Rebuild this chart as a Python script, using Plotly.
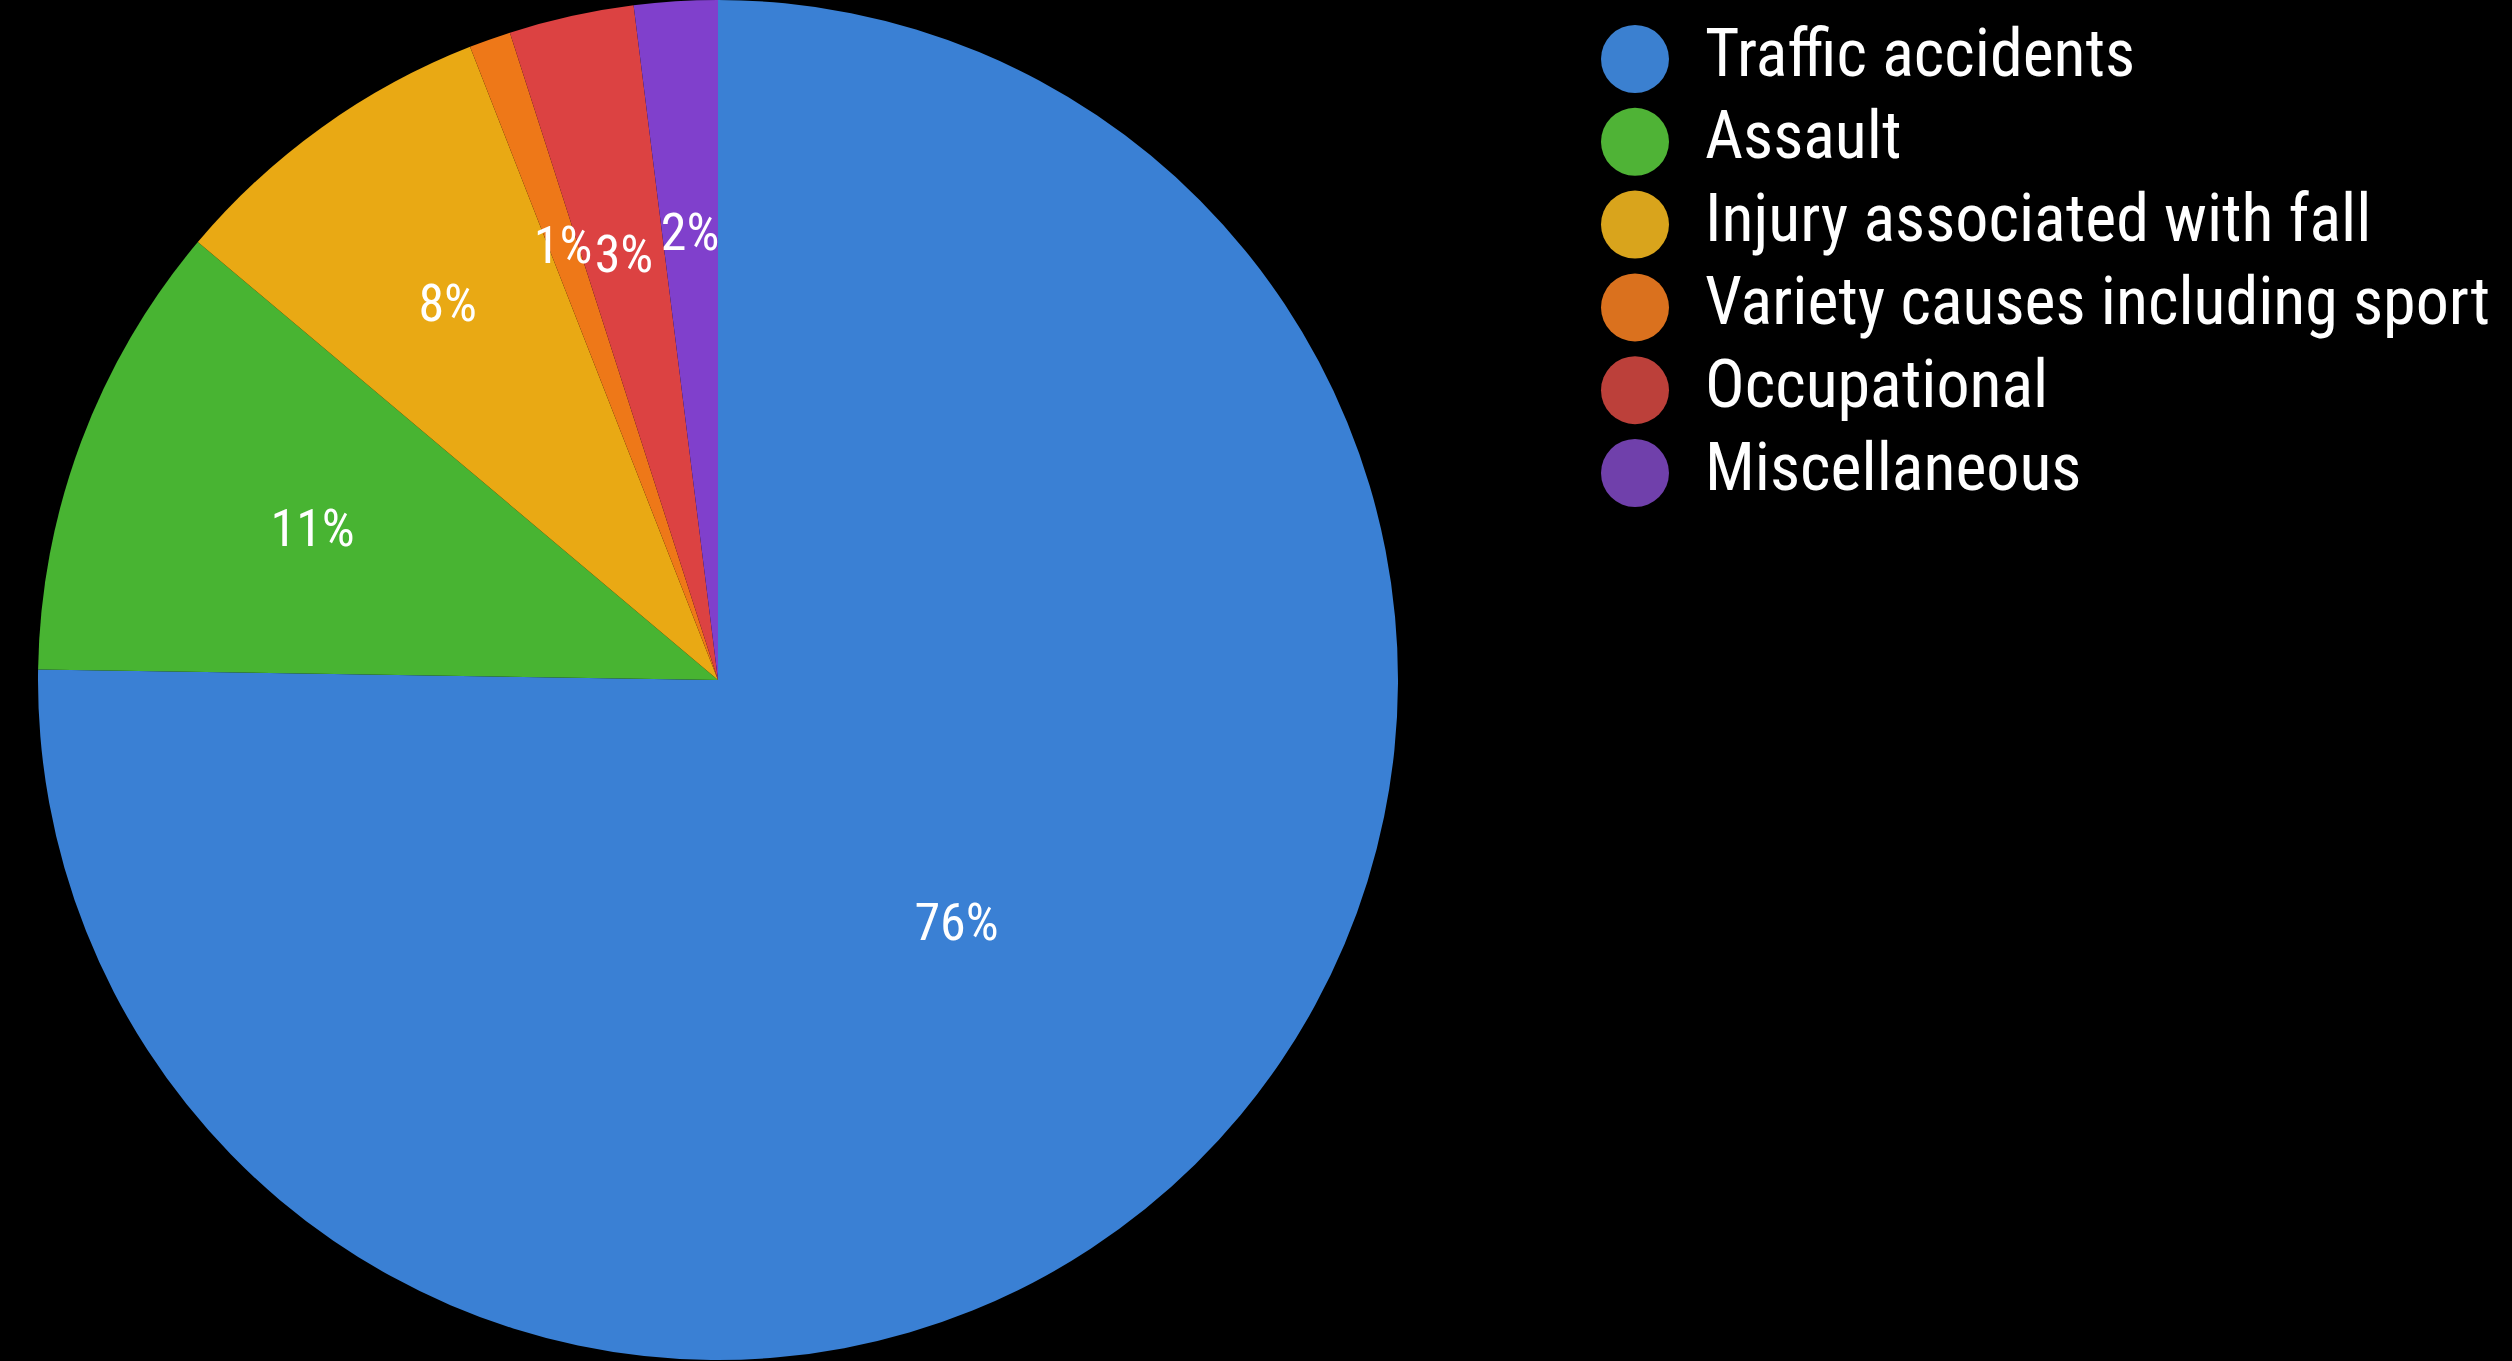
import plotly.graph_objects as go

categories = ["Traffic accidents", "Assault", "Injury associated with fall",
              "Variety causes including sport", "Occupational", "Miscellaneous"]
percent_values = [76, 11, 8, 1, 3, 2]
slice_colors = ["#3a80d4", "#48b432", "#e9a914", "#ee7818", "#dc4242", "#8040cc"]
legend_colors = ["#3b80d0", "#4fb336", "#d9a41c", "#da711e", "#bc403a", "#7040ab"]

FONT = "Roboto Condensed, DejaVu Sans Condensed, sans-serif"

W, H = 2512, 1361
CX, CY, R = 718, 680, 680   # pie centre / radius in px

def pie_domain(frac):
    r = R * frac
    return dict(x=[(CX - r) / W, (CX + r) / W], y=[(H - CY - r) / H, (H - CY + r) / H])

fig = go.Figure()

# main coloured pie (label for the big slice)
fig.add_trace(go.Pie(
    labels=categories, values=percent_values, sort=False,
    direction="clockwise", rotation=0,
    marker=dict(colors=slice_colors, line=dict(width=0)),
    texttemplate="%{value}%",
    textposition=["inside", "none", "none", "none", "none", "none"],
    insidetextorientation="horizontal",
    textfont=dict(family=FONT, size=52, color="white"),
    showlegend=False, domain=pie_domain(1.0),
    hovertemplate="%{label}: %{value}%<extra></extra>",
))
# transparent label pies so that labels sit at the same radius as in the source
transparent = ["rgba(0,0,0,0)"] * len(categories)
fig.add_trace(go.Pie(
    labels=categories, values=percent_values, sort=False,
    direction="clockwise", rotation=0,
    marker=dict(colors=transparent, line=dict(width=0)),
    texttemplate="%{value}%",
    textposition=["none", "inside", "inside", "none", "none", "none"],
    insidetextorientation="horizontal",
    textfont=dict(family=FONT, size=52, color="white"),
    showlegend=False, domain=pie_domain(0.85), hoverinfo="skip",
))
fig.add_trace(go.Pie(
    labels=categories, values=percent_values, sort=False,
    direction="clockwise", rotation=0,
    marker=dict(colors=transparent, line=dict(width=0)),
    texttemplate="%{value}%",
    textposition=["none", "none", "none", "inside", "inside", "inside"],
    insidetextorientation="horizontal",
    textfont=dict(family=FONT, size=52, color="white"),
    showlegend=False, domain=pie_domain(0.70), hoverinfo="skip",
))

# Legend panel drawn as markers + text on its own hidden axes
rows = list(range(len(categories)))
fig.add_trace(go.Scatter(
    x=[0] * len(categories), y=rows, mode="markers",
    marker=dict(color=legend_colors, size=68, line=dict(width=0)),
    xaxis="x2", yaxis="y2", showlegend=False, hoverinfo="skip", cliponaxis=False,
))
fig.add_trace(go.Scatter(
    x=[1] * len(categories), y=rows, mode="text", text=categories,
    textposition="middle right",
    textfont=dict(family=FONT, size=66, color="white"),
    xaxis="x2", yaxis="y2", showlegend=False, hoverinfo="skip", cliponaxis=False,
))

unit_x = 70.0
x_start = 1635 - unit_x
x_units = 12
unit_y = 82.8
top = -59 / unit_y
bottom = top + H / unit_y

fig.update_layout(
    width=W, height=H,
    margin=dict(l=0, r=0, t=0, b=0),
    paper_bgcolor="black", plot_bgcolor="black",
    uniformtext=dict(minsize=52, mode="show"),
    xaxis2=dict(domain=[x_start / W, (x_start + (x_units + 1) * unit_x) / W],
                range=[-1, x_units], visible=False, fixedrange=True, anchor="y2"),
    yaxis2=dict(domain=[0, 1], range=[bottom, top], visible=False, fixedrange=True,
                anchor="x2"),
    xaxis=dict(visible=False), yaxis=dict(visible=False),
)

fig.write_html(
    "out.html",
    config={"displayModeBar": False},
    post_script="document.body.style.margin='0';document.body.style.background='black';"
                "document.body.style.overflow='hidden';",
)
